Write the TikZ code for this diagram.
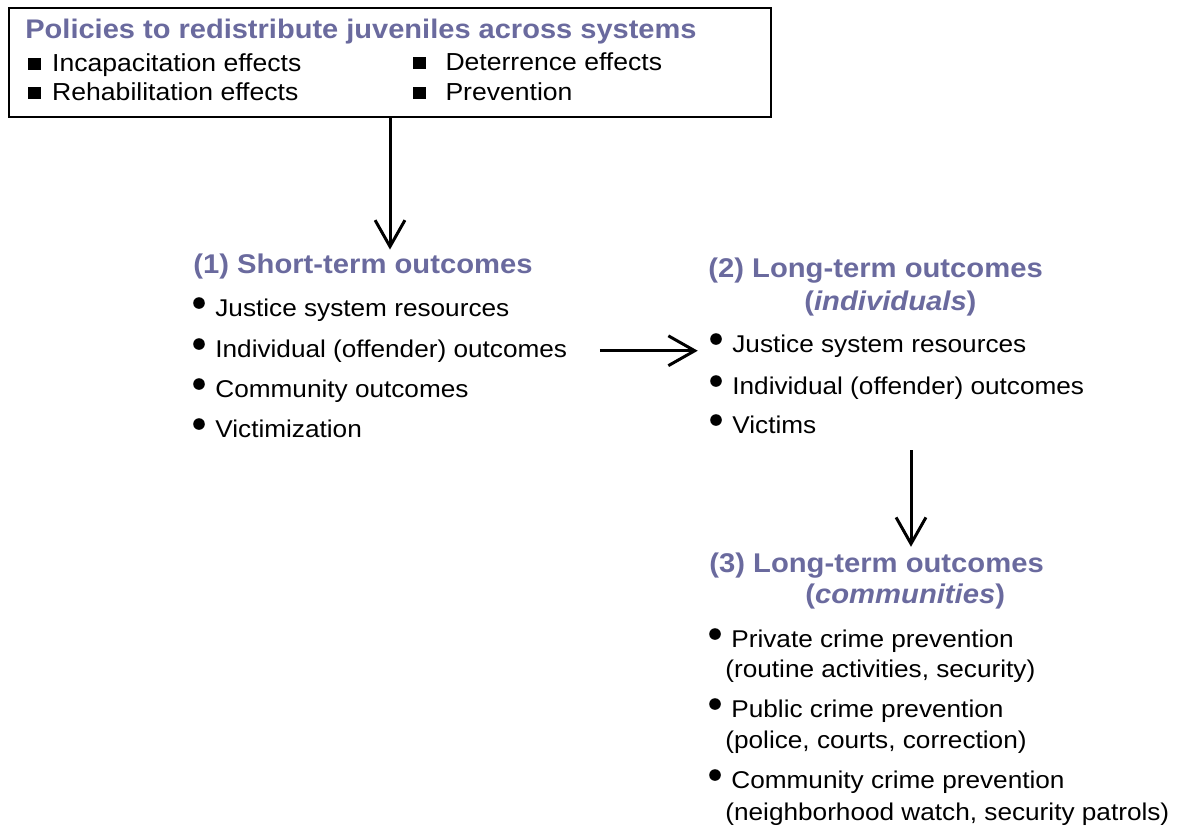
\documentclass[tikz,border=0pt]{standalone}
\usepackage{fontspec}
\setmainfont{Liberation Sans}[FakeStretch=1.08]
\usetikzlibrary{arrows.meta}
\definecolor{headcolor}{HTML}{6A6A9E}
\newcommand\sqbul[1][6.6pt]{\raisebox{0.3pt}{\rule{7pt}{7pt}}\hspace{#1}}

\begin{document}
\begin{tikzpicture}[x=0.02cm, y=-0.02cm,
  txt/.style={inner sep=0pt, anchor=base west, font=\fontsize{13.8pt}{16pt}\selectfont},
  boxtxt/.style={txt, font=\fontsize{14pt}{16pt}\selectfont},
  head/.style={inner sep=0pt, anchor=base west, text=headcolor, font=\fontsize{15.4pt}{18pt}\selectfont\bfseries},
  flow/.style={line width=1.7pt, -{Straight Barb[length=15pt,width=17pt]}}]
  \useasboundingbox (0,0) rectangle (1182,829);
  % policies box
  \node[draw, line width=1.1pt, minimum width=15.24cm, minimum height=2.18cm, inner sep=0pt] (box) at (390,62.5) {};
  \node[head, font=\fontsize{15.3pt}{18pt}\selectfont\bfseries] (title) at (25,38) {Policies to redistribute juveniles across systems};
  \node[boxtxt] (inc) at (28,71) {\sqbul Incapacitation effects};
  \node[boxtxt] (reh) at (28,100) {\sqbul Rehabilitation effects};
  \node[boxtxt] (det) at (413,70) {\sqbul[11.3pt]Deterrence effects};
  \node[boxtxt] (pre) at (413,100) {\sqbul[11.3pt]Prevention};
  % (1) short-term
  \node[head] (st) at (193,273) {(1) Short-term outcomes};
  \node[txt] (st1) at (215,316) {Justice system resources};
  \node[txt] (st2) at (215,357) {Individual (offender) outcomes};
  \node[txt] (st3) at (215,397) {Community outcomes};
  \node[txt] (st4) at (215,437) {Victimization};
  % (2) long-term, individuals
  \node[head] (li) at (708,277) {(2) Long-term outcomes};
  \node[head] (li0) at (804,310) {(\textit{individuals})};
  \node[txt] (li1) at (732,352) {Justice system resources};
  \node[txt] (li2) at (732,394) {Individual (offender) outcomes};
  \node[txt] (li3) at (732,433) {Victims};
  % (3) long-term, communities
  \node[head] (lc) at (709,572) {(3) Long-term outcomes};
  \node[head] (lc0) at (805,603) {(\textit{communities})};
  \node[txt] (lc1) at (731,647) {Private crime prevention};
  \node[txt] (lc1b) at (725,677) {(routine activities, security)};
  \node[txt] (lc2) at (731,717) {Public crime prevention};
  \node[txt] (lc2b) at (725,748) {(police, courts, correction)};
  \node[txt] (lc3) at (731,788) {Community crime prevention};
  \node[txt] (lc3b) at (725,820) {(neighborhood watch, security patrols)};
  % bullets
  \fill ([shift={(-16,-13)}]st1.base west) circle (3.3pt); \fill ([shift={(-16,-13)}]st2.base west) circle (3.3pt);
  \fill ([shift={(-16,-13)}]st3.base west) circle (3.3pt); \fill ([shift={(-16,-13)}]st4.base west) circle (3.3pt);
  \fill ([shift={(-16,-13)}]li1.base west) circle (3.3pt); \fill ([shift={(-16,-13)}]li2.base west) circle (3.3pt);
  \fill ([shift={(-16,-13)}]li3.base west) circle (3.3pt);
  \fill ([shift={(-16,-13)}]lc1.base west) circle (3.3pt); \fill ([shift={(-16,-13)}]lc2.base west) circle (3.3pt);
  \fill ([shift={(-16,-13)}]lc3.base west) circle (3.3pt);
  % arrows
  \draw[flow, shorten >=2pt] (box.south) -- (box.south |- st.north);
  \draw[flow, shorten <=18.5pt, shorten >=19.5pt] (st2.east) -- (st2.east -| li1.west);
  \coordinate (drop) at (911,450);
  \draw[flow, shorten >=3pt] (drop) -- (drop |- lc.north);
\end{tikzpicture}
\end{document}
